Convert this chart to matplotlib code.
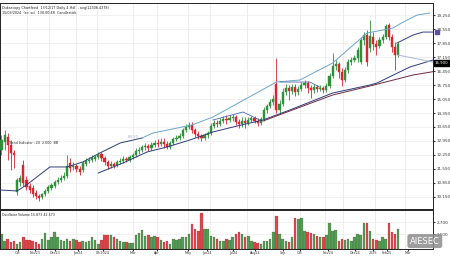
import matplotlib
matplotlib.use("Agg")
import matplotlib.pyplot as plt
import matplotlib.transforms as mtransforms

# candle data (daily OHLC)
opens = [12.50, 12.90, 13.15, 12.75, 12.35, 10.40, 10.90, 11.75, 11.00, 10.70,
         10.60, 10.35, 10.20, 10.15, 10.30, 10.45, 10.60, 10.70, 10.90, 11.00,
         11.10, 11.20, 11.85, 11.65, 11.70, 11.55, 11.50, 11.80, 11.95, 12.00,
         12.05, 12.15, 12.30, 12.10, 11.90, 11.70, 11.80, 11.75, 11.90, 11.95,
         12.05, 12.00, 12.15, 12.25, 12.45, 12.50, 12.65, 12.70, 12.60, 12.75,
         12.85, 12.80, 12.90, 12.80, 12.65, 12.85, 13.05, 13.10, 13.20, 13.50,
         13.65, 13.75, 13.50, 13.30, 13.20, 13.10, 13.25, 13.35, 13.70, 13.85,
         13.80, 13.95, 14.05, 14.00, 14.10, 14.15, 13.90, 13.80, 13.95, 13.85,
         14.00, 14.10, 13.95, 13.85, 14.05, 14.50, 14.70, 14.90, 15.80, 14.50,
         14.80, 15.40, 15.60, 15.45, 15.65, 15.40, 15.55, 15.75, 15.85, 15.60,
         15.50, 15.65, 15.55, 15.60, 15.50, 15.70, 16.20, 16.70, 16.80, 16.40,
         16.00, 16.50, 16.90, 17.00, 17.10, 16.90, 18.00, 18.25, 17.60, 18.15,
         17.80, 17.70, 18.00, 18.15, 18.75, 18.15, 17.65, 17.25]
closes = [13.00, 13.25, 12.75, 12.35, 12.25, 11.00, 11.10, 10.85, 10.65, 10.50,
          10.30, 10.20, 10.10, 10.30, 10.45, 10.65, 10.75, 10.90, 11.00, 11.10,
          11.20, 11.70, 11.60, 11.70, 11.55, 11.40, 11.85, 11.95, 12.00, 12.10,
          12.15, 12.25, 12.10, 11.90, 11.70, 11.80, 11.70, 11.90, 11.95, 12.05,
          12.00, 12.15, 12.25, 12.45, 12.50, 12.65, 12.70, 12.60, 12.75, 12.85,
          12.80, 12.90, 12.80, 12.65, 12.85, 13.05, 13.10, 13.20, 13.50, 13.65,
          13.75, 13.50, 13.30, 13.20, 13.10, 13.25, 13.35, 13.70, 13.85, 13.80,
          13.95, 14.05, 14.00, 14.10, 14.15, 13.90, 13.80, 13.95, 13.85, 14.00,
          14.10, 13.95, 13.85, 14.05, 14.50, 14.70, 14.90, 15.05, 14.50, 14.80,
          15.40, 15.60, 15.45, 15.65, 15.40, 15.55, 15.75, 15.85, 15.60, 15.50,
          15.65, 15.55, 15.60, 15.50, 15.70, 16.20, 16.70, 16.80, 16.40, 16.00,
          16.50, 16.90, 17.00, 17.10, 17.50, 18.00, 18.25, 16.90, 18.20, 17.80,
          17.65, 18.00, 18.15, 18.70, 18.15, 17.65, 17.25, 17.80]
highs = [13.25, 13.50, 13.35, 13.00, 12.50, 11.10, 11.25, 12.00, 11.20, 10.85,
         10.75, 10.50, 10.30, 10.35, 10.55, 10.75, 10.85, 11.00, 11.15, 11.25,
         11.40, 12.25, 12.10, 11.90, 11.80, 11.70, 11.95, 12.10, 12.15, 12.25,
         12.25, 12.40, 12.40, 12.20, 12.00, 11.95, 11.90, 12.00, 12.10, 12.20,
         12.15, 12.25, 12.35, 12.60, 12.65, 12.75, 12.85, 12.80, 12.90, 13.00,
         13.05, 13.10, 13.10, 12.95, 12.95, 13.15, 13.25, 13.35, 13.60, 13.80,
         13.90, 13.90, 13.60, 13.45, 13.30, 13.35, 13.45, 13.85, 14.00, 14.00,
         14.10, 14.20, 14.25, 14.25, 14.30, 14.25, 14.05, 14.15, 14.15, 14.15,
         14.20, 14.20, 14.10, 14.15, 14.65, 14.80, 15.05, 15.25, 17.10, 15.00,
         15.60, 15.80, 15.75, 15.80, 15.80, 15.70, 15.90, 16.00, 15.95, 15.75,
         15.80, 15.75, 15.75, 15.70, 15.85, 16.35, 17.35, 17.00, 16.90, 16.60,
         16.65, 17.05, 17.15, 17.25, 17.65, 18.15, 18.40, 18.50, 19.00, 18.40,
         18.00, 18.15, 18.30, 18.80, 18.85, 18.30, 17.90, 17.90]
lows = [12.25, 12.50, 12.00, 11.50, 11.60, 10.25, 10.70, 10.70, 10.50, 10.35,
        10.15, 10.05, 9.95, 10.05, 10.20, 10.35, 10.50, 10.60, 10.80, 10.90,
        11.00, 11.10, 11.40, 11.50, 11.40, 11.25, 11.40, 11.70, 11.85, 11.90,
        11.95, 12.05, 11.95, 11.75, 11.55, 11.60, 11.60, 11.65, 11.80, 11.85,
        11.90, 11.90, 12.05, 12.15, 12.30, 12.40, 12.50, 12.45, 12.50, 12.65,
        12.65, 12.70, 12.60, 12.55, 12.55, 12.75, 12.95, 13.00, 13.10, 13.40,
        13.55, 13.35, 13.15, 13.05, 12.95, 13.00, 13.10, 13.25, 13.60, 13.65,
        13.70, 13.85, 13.80, 13.90, 13.95, 13.75, 13.60, 13.65, 13.60, 13.75,
        13.90, 13.85, 13.70, 13.75, 13.95, 14.35, 14.60, 14.75, 14.35, 14.30,
        14.70, 15.25, 15.00, 15.30, 15.20, 15.25, 15.45, 15.60, 15.35, 15.10,
        15.35, 15.40, 15.45, 15.35, 15.40, 15.60, 16.10, 16.50, 16.10, 15.70,
        15.90, 16.35, 16.75, 16.90, 16.90, 16.80, 17.75, 16.70, 17.40, 17.50,
        17.25, 17.60, 17.85, 18.05, 18.00, 17.40, 16.50, 17.15]
volumes = [1500, 840, 1000, 670, 840, 500, 670, 1170, 900, 940,
           840, 670, 500, 1000, 1570, 900, 1240, 1740, 1240, 900,
           770, 1000, 840, 970, 900, 670, 840, 670, 840, 1240,
           900, 500, 900, 1440, 1440, 1400, 1240, 1000, 840, 670,
           700, 570, 570, 1440, 1570, 1900, 1340, 1440, 1170, 1340,
           1170, 900, 670, 840, 500, 1000, 950, 1000, 1170, 1240,
           1500, 2500, 2000, 1840, 3670, 2000, 2000, 1340, 1240, 1000,
           840, 840, 1000, 900, 1240, 1500, 1670, 1500, 1170, 1340,
           840, 670, 570, 500, 770, 840, 1000, 1670, 3340, 1500,
           1000, 840, 670, 1170, 3170, 3000, 3100, 1840, 1670, 1570,
           1500, 1340, 1170, 1200, 1400, 2670, 1840, 1900, 840, 1000,
           900, 1000, 840, 1170, 1500, 1400, 2670, 2670, 1840, 1000,
           900, 840, 1170, 1000, 2670, 1670, 1500, 2000]

# indicator lines (bar index, price)
band_left_x = [-0.5, 5, 8, 15.5, 21, 26, 31.5, 38, 45]
band_left_y = [10.50, 10.45, 10.75, 11.65, 11.65, 11.90, 12.35, 12.85, 13.10]
upper_x = [45, 48.5, 61, 67.7, 88, 95.5, 106, 117, 125.3, 128, 133, 137]
upper_y = [13.10, 13.35, 13.75, 14.15, 15.90, 16.00, 16.85, 18.35, 18.60, 18.85, 19.25, 19.35]
lower_x = [31, 38.9, 46.6, 53, 60.3, 67.7, 74.1, 83.7, 92.3, 106, 117.9, 120.2, 130.7, 141.3]
lower_y = [11.35, 11.85, 12.40, 12.65, 13.00, 13.40, 13.65, 14.00, 14.50, 15.35, 15.75, 15.85, 16.65, 17.15]
ma_x = [83.7, 106, 117.9, 131.7, 141.3]
ma_y = [13.95, 15.25, 15.70, 16.25, 16.50]
mid1_x = [67.7, 77.3, 82.7]
mid1_y = [14.00, 14.40, 14.00]
mid2_x = [89.1, 98.7, 101.9]
mid2_y = [15.90, 15.90, 15.65]
mid3_x = [126.6, 131.7, 134.9, 138.1]
mid3_y = [17.85, 18.25, 18.40, 18.40]
proj_x = [126.9, 138.1]
proj_y = [17.25, 16.90]

price_ticks = [10.15, 10.85, 11.55, 12.25, 12.95, 13.65, 14.35, 15.05, 15.75, 16.45, 17.15, 17.85, 18.55, 19.25]
vol_ticks = [1500, 2700]
date_pos = [5.3, 10.7, 17.1, 24.5, 32.5, 42.1, 49.8, 59.7, 65.8, 74.1, 81.1, 90.1, 95.5, 104.5, 113.1, 118.9, 123.4, 130.1]
date_labels = ['Oct', 'Nov23', 'Dec23', 'Jan24', '02/2024', 'Mar', 'Apr', 'May', 'Jun24', 'Jul24',
               'Aug24', 'Sep', 'Oct', 'Nov24', 'Dec24', '2025', 'Feb25', 'Mar']
vgrid = [8.2, 15.2, 23.8, 30.6, 42.1, 49.8, 59.7, 66.7, 78.6, 86.9, 95.5, 103.5, 109.3, 119.5, 129.1]

RED = '#d8262e'
GREEN = '#2f8f3a'

fig = plt.figure(figsize=(4.5, 2.57), dpi=100)
ax = fig.add_axes([0.0, 0.187, 0.962, 0.801])
axv = fig.add_axes([0.0, 0.03, 0.962, 0.153], sharex=ax)

idx = list(range(len(closes)))
cols = [GREEN if c >= o else RED for o, c in zip(opens, closes)]

for a in (ax, axv):
    for g in vgrid:
        a.axvline(g, color='#e6e6e6', lw=0.5, zorder=0)
for t in price_ticks:
    ax.axhline(t, color='#ececec', lw=0.5, zorder=0)
for t in vol_ticks:
    axv.axhline(t, color='#ececec', lw=0.5, zorder=0)

# candles
ax.vlines(idx, lows, highs, colors=cols, lw=0.6, zorder=2)
bottoms = [min(o, c) for o, c in zip(opens, closes)]
heights = [max(abs(c - o), 0.03) for o, c in zip(opens, closes)]
ax.bar(idx, heights, bottom=bottoms, width=0.7, color=cols, edgecolor=cols, lw=0.3, zorder=3)

# indicator lines
ax.plot(band_left_x, band_left_y, color='#2f3f72', lw=0.7, zorder=4)
ax.plot(upper_x, upper_y, color='#6aa6c9', lw=0.7, zorder=4)
ax.plot(lower_x, lower_y, color='#2c3b78', lw=0.7, zorder=4)
ax.plot(ma_x, ma_y, color='#6e2a3e', lw=0.7, zorder=4)
ax.plot(mid1_x, mid1_y, color='#4a6aa8', lw=0.6, zorder=4)
ax.plot(mid2_x, mid2_y, color='#4a6aa8', lw=0.6, zorder=4)
ax.plot(mid3_x, mid3_y, color='#303c88', lw=0.7, zorder=4)
ax.plot(proj_x, proj_y, color='#a9b5d6', lw=0.7, zorder=4)
ax.plot([139.3], [18.40], marker='s', ms=3, color='#5a4fa0', clip_on=False, zorder=5)

ax.set_xlim(-0.48, 138.1)
ax.set_ylim(9.55, 19.85)
ax.yaxis.tick_right()
ax.set_yticks(price_ticks)
ax.set_yticklabels(['{:.3f}'.format(t) for t in price_ticks])
ax.tick_params(axis='y', labelsize=3, length=1.5, pad=1, colors='#333333')
ax.tick_params(axis='x', bottom=False, labelbottom=False)

# volume panel
axv.bar(idx, volumes, width=0.8, color=cols, edgecolor='#7a3030', lw=0.15, alpha=0.85, zorder=2)
axv.set_ylim(-30, 3950)
axv.yaxis.tick_right()
axv.set_yticks(vol_ticks)
axv.set_yticklabels(['{:,.0f}'.format(t).replace(',', '.') for t in vol_ticks])
axv.tick_params(axis='y', labelsize=3, length=1.5, pad=1, colors='#333333')
axv.set_xticks(date_pos)
axv.set_xticklabels(date_labels)
axv.tick_params(axis='x', labelsize=2.4, length=1.2, pad=0.3, colors='#333333')

for a in (ax, axv):
    for s in a.spines.values():
        s.set_color('#222222')
        s.set_linewidth(0.7)

# labels
trans = mtransforms.blended_transform_factory(ax.transAxes, ax.transData)
ax.text(1.004, 16.85, '16.900', transform=trans, fontsize=2.8, color='white', va='center',
        bbox=dict(boxstyle='square,pad=0.15', fc='black', ec='black'))
ax.text(2.5, 12.85, 'Trend Indicator : 20  2.000  BB', fontsize=2.3, color='#222222', va='center')
ax.text(40.5, 13.15, 'BB 20', fontsize=2.3, color='#9fb6cc', va='center')
ax.text(0.004, 0.988, 'Dukascopy Chartfeed  13/12/17 Daily 4-Hdl. , avg(12306.4378)',
        transform=ax.transAxes, fontsize=2.4, color='#222222', va='top')
ax.text(0.004, 0.96, '15/03/2024  (sc: sc)  130:00:48  Candlestick',
        transform=ax.transAxes, fontsize=2.4, color='#222222', va='top')
axv.text(0.004, 0.93, 'Oscillator Volume 15.873 42.573', transform=axv.transAxes,
         fontsize=2.3, color='#222222', va='top')
fig.text(0.944, 0.062, 'AIESEC', fontsize=6, color='white', ha='center', va='center',
         bbox=dict(boxstyle='round,pad=0.3', fc='#8c8c8c', ec='none', alpha=0.85))

fig.savefig('out.png', dpi=100)
